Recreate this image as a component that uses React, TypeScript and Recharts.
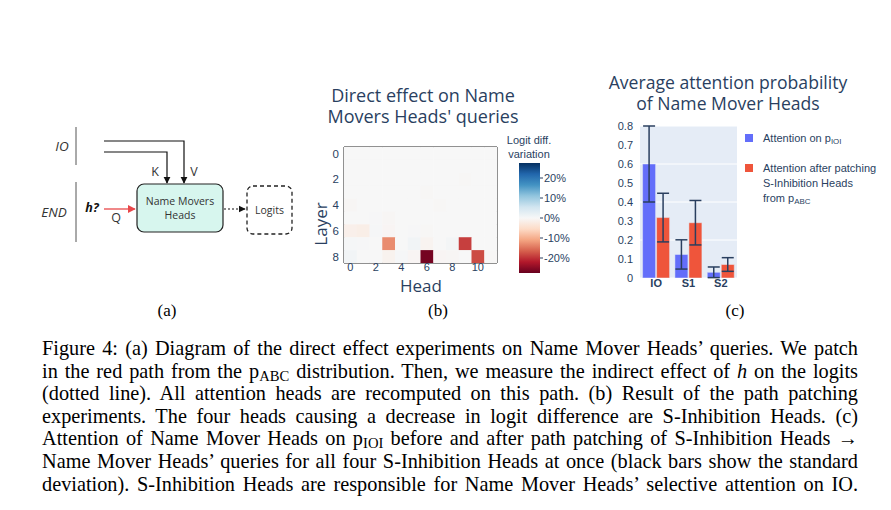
import React from 'react';
import {
  ScatterChart, Scatter, XAxis, YAxis, ReferenceArea,
  BarChart, Bar, ErrorBar, CartesianGrid,
} from 'recharts';

// ---- (b) heatmap data: logit diff. variation (%) per layer (rows) and head (cols)
const heads = [0, 1, 2, 3, 4, 5, 6, 7, 8, 9, 10, 11];
const layers = [0, 1, 2, 3, 4, 5, 6, 7, 8];
const logitVariation = [
  [0, 0, 0, 0, 0, 0, 0, 0, 0, 0, 0, 0],
  [0, 0, 0, 0, 0, 0, 0, 0, 0, 0, 0, 0],
  [0, 0, 0, 0, 0, 0, 0, 0, 0, -0.2, 0, 0],
  [0, 0, 0, 0, 0, 0, -0.2, 0, 0, 0, 0, 0],
  [-0.3, 0, 0, 0, 0, 0, 0, -0.2, 0, 0, 0, 0],
  [0, 0, 0.2, -0.3, 0, 0, 0, 0, 0, 0, 0, 0],
  [-1.5, -1.8, 0.3, -0.5, 0, 0.2, -0.2, 0, 0, 0, 0, 0],
  [0.3, 0.2, 0, -13, 0, 0.8, -0.8, 0, 0.6, -19, 0, 0],
  [0.8, 0, 0, -1, 0.3, -0.5, -26.5, -0.5, -0.4, 0, -18, -0.2],
];
const headTicks = [0, 2, 4, 6, 8, 10];
const layerTicks = [0, 2, 4, 6, 8];
const colorbarTicks = [20, 10, 0, -10, -20];
const colorRange = 27.5;

// ---- (c) bar chart data
const positions = ['IO', 'S1', 'S2'];
const attnIOI = [0.6, 0.124, 0.03];
const attnIOIStd = [0.2, 0.077, 0.028];
const attnPatched = [0.318, 0.291, 0.071];
const attnPatchedStd = [0.128, 0.117, 0.036];
const attnTicks = [0, 0.1, 0.2, 0.3, 0.4, 0.5, 0.6, 0.7, 0.8];

const cells = layers.flatMap((layer) =>
  heads.map((head) => ({ head, layer, value: logitVariation[layer][head] }))
);

const barData = positions.map((name, i) => ({
  name,
  ioi: attnIOI[i],
  ioiStd: attnIOIStd[i],
  patched: attnPatched[i],
  patchedStd: attnPatchedStd[i],
}));

// RdBu (colorbrewer), dark red -> dark blue
const rdbu = [
  [103, 0, 31], [178, 24, 43], [214, 96, 77], [244, 165, 130], [253, 219, 199],
  [247, 247, 247], [209, 229, 240], [146, 197, 222], [67, 147, 195], [33, 102, 172], [5, 48, 97],
];

function colorFor(v: number) {
  let t = (v + colorRange) / (2 * colorRange);
  t = Math.max(0, Math.min(1, t));
  const p = t * (rdbu.length - 1);
  const i = Math.min(rdbu.length - 2, Math.floor(p));
  const f = p - i;
  const c = rdbu[i].map((a, k) => Math.round(a + (rdbu[i + 1][k] - a) * f));
  return `rgb(${c[0]},${c[1]},${c[2]})`;
}

const PLOT_W = 153;
const PLOT_H = 116;
const cellW = PLOT_W / heads.length;
const cellH = PLOT_H / layers.length;

const HeatCell = (props: any) => {
  const { cx, cy, payload } = props;
  return (
    <rect
      x={cx - cellW / 2}
      y={cy - cellH / 2}
      width={cellW + 0.4}
      height={cellH + 0.4}
      fill={colorFor(payload.value)}
    />
  );
};

const slate = '#2a3f5f';
const sans = '"Open Sans", "Liberation Sans", sans-serif';
const arial = '"Liberation Sans", Arial, sans-serif';
const serif = '"Liberation Serif", "Times New Roman", serif';

const Txt: React.FC<{ x: number; y: number; size: number; children: React.ReactNode; style?: React.CSSProperties }> = ({ x, y, size, children, style }) => (
  <div
    style={{
      position: 'absolute', left: x, top: y, transform: 'translate(-50%, -50%)',
      fontSize: size, whiteSpace: 'nowrap', lineHeight: 1, textAlign: 'center', ...style,
    }}
  >
    {children}
  </div>
);

const Diagram = () => (
  <svg width={310} height={260} style={{ position: 'absolute', left: 0, top: 0 }}>
    <defs>
      <marker id="ahBlack" viewBox="0 0 10 10" refX="9" refY="5" markerWidth="6" markerHeight="6" orient="auto">
        <path d="M0,0 L10,5 L0,10 z" fill="#111" />
      </marker>
      <marker id="ahRed" viewBox="0 0 10 10" refX="9" refY="5" markerWidth="6" markerHeight="6" orient="auto">
        <path d="M0,0 L10,5 L0,10 z" fill="#e8474a" />
      </marker>
    </defs>
    <g fontFamily={sans} fill="#333">
      <text x={62} y={151} fontSize={13.5} fontStyle="italic" textAnchor="middle">IO</text>
      <text x={54} y={217} fontSize={13.5} fontStyle="italic" textAnchor="middle">END</text>
      <line x1={76} y1={127} x2={76} y2={165} stroke="#555" strokeWidth={1} />
      <line x1={76} y1={182} x2={76} y2={242} stroke="#555" strokeWidth={1} />

      <path d="M104,141 H184 V183" fill="none" stroke="#111" strokeWidth={1.2} markerEnd="url(#ahBlack)" />
      <path d="M104,152 H167 V183" fill="none" stroke="#111" strokeWidth={1.2} markerEnd="url(#ahBlack)" />
      <text x={155} y={176} fontSize={12.5} textAnchor="middle">K</text>
      <text x={194} y={176} fontSize={12.5} textAnchor="middle">V</text>

      <rect x={137} y={184} width={86} height={48} rx={7} fill="#d7f6ee" stroke="#222" strokeWidth={1.2} />
      <text x={180} y={205} fontSize={10.5} textAnchor="middle">Name Movers</text>
      <text x={180} y={219} fontSize={10.5} textAnchor="middle">Heads</text>

      <text x={92} y={212} fontSize={12.5} fontWeight="bold" fontStyle="italic" textAnchor="middle" fill="#111">h?</text>
      <path d="M104,209 H135" fill="none" stroke="#e8474a" strokeWidth={1.3} markerEnd="url(#ahRed)" />
      <text x={116} y={222} fontSize={12.5} textAnchor="middle">Q</text>

      <path d="M224,209 H245" fill="none" stroke="#111" strokeWidth={1.2} strokeDasharray="2 2" markerEnd="url(#ahBlack)" />
      <rect x={247} y={186} width={45} height={48} rx={6} fill="none" stroke="#222" strokeWidth={1.3} strokeDasharray="4 3" />
      <text x={269.5} y={214} fontSize={10.5} textAnchor="middle">Logits</text>
    </g>
  </svg>
);

const Colorbar = () => (
  <svg width={70} height={130} style={{ position: 'absolute', left: 510, top: 155 }}>
    <defs>
      <linearGradient id="rdbuGrad" x1="0" y1="1" x2="0" y2="0">
        {rdbu.map((c, i) => (
          <stop key={i} offset={`${(i / (rdbu.length - 1)) * 100}%`} stopColor={`rgb(${c[0]},${c[1]},${c[2]})`} />
        ))}
      </linearGradient>
    </defs>
    <rect x={9} y={8} width={21} height={110} fill="url(#rdbuGrad)" />
    {colorbarTicks.map((t) => {
      const y = 8 + 55 - (t / colorRange) * 55;
      return (
        <g key={t}>
          <line x1={30} y1={y} x2={33} y2={y} stroke={slate} strokeWidth={1} />
          <text x={34} y={y + 4} fontSize={11} fill={slate} fontFamily={arial}>{`${t}%`}</text>
        </g>
      );
    })}
  </svg>
);

const Sub: React.FC<{ children: React.ReactNode }> = ({ children }) => (
  <span style={{ fontSize: '0.72em', verticalAlign: '-0.22em', lineHeight: 0 }}>{children}</span>
);

const captionLines: React.ReactNode[] = [
  <>Figure 4: (a) Diagram of the direct effect experiments on Name Mover Heads’ queries. We patch</>,
  <>in the red path from the p<Sub>ABC</Sub> distribution. Then, we measure the indirect effect of <i>h</i> on the logits</>,
  <>(dotted line). All attention heads are recomputed on this path. (b) Result of the path patching</>,
  <>experiments. The four heads causing a decrease in logit difference are S-Inhibition Heads. (c)</>,
  <>Attention of Name Mover Heads on p<Sub>IOI</Sub> before and after path patching of S-Inhibition Heads <span style={{ lineHeight: 0 }}>→</span></>,
  <>Name Mover Heads’ queries for all four S-Inhibition Heads at once (black bars show the standard</>,
  <>deviation). S-Inhibition Heads are responsible for Name Mover Heads’ selective attention on IO.</>,
];

export default function App() {
  return (
    <div style={{ position: 'absolute', left: 0, top: 0, width: 891, height: 510, background: '#fff', overflow: 'hidden' }}>
      {/* (a) */}
      <Diagram />

      {/* (b) */}
      <Txt x={423} y={105.5} size={18} style={{ fontFamily: sans, color: slate, lineHeight: '21px' }}>
        Direct effect on Name<br />Movers Heads' queries
      </Txt>
      <div style={{ position: 'absolute', left: 305, top: 140 }}>
        <ScatterChart width={200} height={150} margin={{ top: 7, right: 8, left: 0, bottom: 0 }}>
          <XAxis
            type="number" dataKey="head" domain={[-0.5, 11.5]} ticks={headTicks} allowDataOverflow
            axisLine={false} tickLine={false} tickSize={0} tickMargin={0} height={27}
            tick={{ fontSize: 11, fill: slate, fontFamily: arial }}
          />
          <YAxis
            type="number" dataKey="layer" domain={[-0.5, 8.5]} ticks={layerTicks} allowDataOverflow reversed
            axisLine={false} tickLine={false} tickSize={0} tickMargin={5} width={39}
            tick={{ fontSize: 11.5, fill: slate, fontFamily: arial }}
          />
          <Scatter data={cells} shape={HeatCell} isAnimationActive={false} />
          <ReferenceArea x1={-0.5} x2={11.5} y1={-0.5} y2={8.5} fill="none" stroke="#222" strokeWidth={1} fillOpacity={0} ifOverflow="visible" />
        </ScatterChart>
      </div>
      <Txt x={320} y={224} size={17} style={{ fontFamily: sans, color: slate, transform: 'translate(-50%, -50%) rotate(-90deg)' }}>Layer</Txt>
      <Txt x={421} y={285} size={17} style={{ fontFamily: sans, color: slate }}>Head</Txt>
      <Txt x={529} y={147} size={11} style={{ fontFamily: arial, color: slate, lineHeight: '14px' }}>
        Logit diff.<br />variation
      </Txt>
      <Colorbar />

      {/* (c) */}
      <Txt x={728} y={92.5} size={17.6} style={{ fontFamily: sans, color: slate, lineHeight: '21px' }}>
        Average attention probability<br />of Name Mover Heads
      </Txt>
      <div style={{ position: 'absolute', left: 600, top: 118 }}>
        <BarChart width={145} height={180} data={barData} margin={{ top: 8, right: 8, left: 0, bottom: 0 }} barCategoryGap="8%" barGap={1}>
          <CartesianGrid vertical={false} stroke="#ffffff" strokeWidth={1} fill="#E5ECF6" />
          <XAxis
            dataKey="name" axisLine={false} tickLine={false} tickSize={0} tickMargin={1} height={20}
            tick={{ fontSize: 11, fill: slate, fontFamily: arial, fontWeight: 'bold' }}
          />
          <YAxis
            type="number" domain={[0, 0.8]} ticks={attnTicks} allowDataOverflow
            axisLine={false} tickLine={false} tickSize={0} tickMargin={7} width={40}
            tickFormatter={(v: number) => (v === 0 ? '0' : String(v))}
            tick={{ fontSize: 11, fill: slate, fontFamily: arial }}
          />
          <Bar dataKey="ioi" fill="#636EFA" stroke="#E5ECF6" strokeWidth={0.5} isAnimationActive={false}>
            <ErrorBar dataKey="ioiStd" width={6} stroke={slate} strokeWidth={1.5} direction="y" />
          </Bar>
          <Bar dataKey="patched" fill="#EF553B" stroke="#E5ECF6" strokeWidth={0.5} isAnimationActive={false}>
            <ErrorBar dataKey="patchedStd" width={6} stroke={slate} strokeWidth={1.5} direction="y" />
          </Bar>
        </BarChart>
      </div>
      {/* legend */}
      <div style={{ position: 'absolute', left: 745, top: 134, width: 8, height: 8, background: '#636EFA' }} />
      <div style={{ position: 'absolute', left: 763, top: 131, fontFamily: arial, fontSize: 11, color: slate, lineHeight: '15px' }}>
        Attention on p<Sub>IOI</Sub>
      </div>
      <div style={{ position: 'absolute', left: 745, top: 164, width: 8, height: 8, background: '#EF553B' }} />
      <div style={{ position: 'absolute', left: 763, top: 161, fontFamily: arial, fontSize: 11, color: slate, lineHeight: '15px', whiteSpace: 'nowrap' }}>
        <div>Attention after patching</div>
        <div>S-Inhibition Heads</div>
        <div>from p<Sub>ABC</Sub></div>
      </div>

      {/* panel labels */}
      <Txt x={167} y={310} size={17} style={{ fontFamily: serif }}>(a)</Txt>
      <Txt x={438} y={310} size={17} style={{ fontFamily: serif }}>(b)</Txt>
      <Txt x={735} y={310} size={17} style={{ fontFamily: serif }}>(c)</Txt>

      {/* caption */}
      <div style={{ position: 'absolute', left: 42, top: 337, width: 816, fontFamily: serif, fontSize: 20.3, lineHeight: '22.6px', color: '#000' }}>
        {captionLines.map((line, i) => (
          <div key={i} style={{ textAlign: 'justify', textAlignLast: 'justify', height: 22.6 }}>{line}</div>
        ))}
      </div>
    </div>
  );
}
